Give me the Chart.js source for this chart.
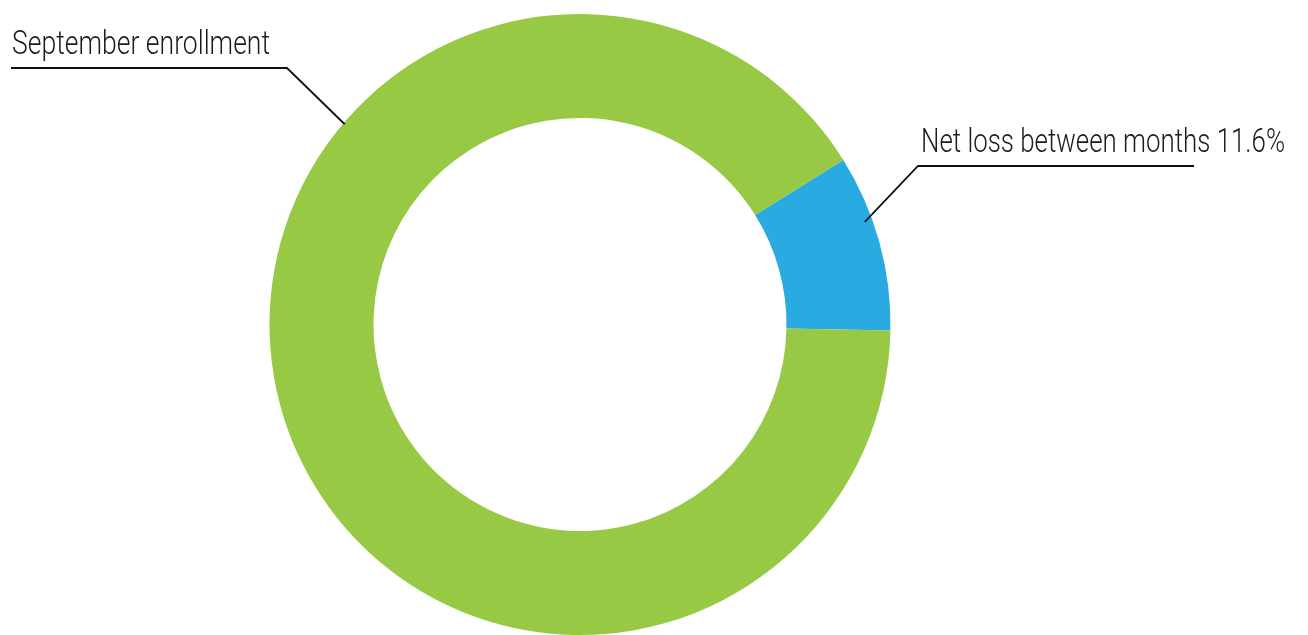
<!DOCTYPE html>
<html>
<head>
<meta charset="utf-8">
<script src="https://cdn.jsdelivr.net/npm/chart.js@4.4.1/dist/chart.umd.min.js"></script>
<style>
  html, body { margin: 0; padding: 0; background: #ffffff; }
  #wrap { width: 1308px; height: 635px; position: relative; }
</style>
</head>
<body>
<div id="wrap"><canvas id="c" width="1308" height="635"></canvas></div>
<script>
// Data
const categories = ["Net loss between months", "September enrollment"];
const values = [9.2, 90.8];
const labelTexts = ["Net loss between months 11.6%", "September enrollment"];
const colors = ["#29ABE2", "#97C944"];

// Label styling (annotation only)
const FONT_FAMILY = 'Roboto, "Open Sans", "DejaVu Sans Condensed", sans-serif';

const labelPlugin = {
  id: 'leaderLabels',
  afterDraw(chart) {
    const ctx = chart.ctx;
    const meta = chart.getDatasetMeta(0);
    const arc0 = meta.data[0];
    const cx = arc0.x, cy = arc0.y, R = arc0.outerRadius;
    const specs = [
      { idx: 0, angle: 70.2, rf: 0.975, elbowX: 918, elbowY: 166, lineEnd: 1194, textX: 921, baseY: 152, width: 364 },
      { idx: 1, angle: -49.6, rf: 0.995, elbowX: 287, elbowY: 68, lineEnd: 11, textX: 12, baseY: 54, width: 258 }
    ];
    ctx.save();
    ctx.strokeStyle = '#111111';
    ctx.lineWidth = 1.8;
    ctx.fillStyle = '#1b1b1b';
    specs.forEach(s => {
      const a = s.angle * Math.PI / 180;
      const px = cx + Math.sin(a) * R * s.rf;
      const py = cy - Math.cos(a) * R * s.rf;
      ctx.beginPath();
      ctx.moveTo(px, py);
      ctx.lineTo(s.elbowX, s.elbowY);
      ctx.lineTo(s.lineEnd, s.elbowY);
      ctx.stroke();
      ctx.font = '300 34px ' + FONT_FAMILY;
      const txt = labelTexts[s.idx];
      const w = ctx.measureText(txt).width;
      const sx = s.width / w;
      ctx.save();
      ctx.translate(s.textX, s.baseY);
      ctx.scale(sx, 1);
      ctx.textBaseline = 'alphabetic';
      ctx.textAlign = 'left';
      ctx.fillText(txt, 0, 0);
      ctx.restore();
    });
    ctx.restore();
  }
};

function draw() {
  new Chart(document.getElementById('c'), {
    type: 'doughnut',
    data: {
      labels: categories,
      datasets: [{
        data: values,
        backgroundColor: colors,
        borderWidth: 0,
        hoverOffset: 0
      }]
    },
    options: {
      responsive: false,
      animation: false,
      rotation: 58,
      cutout: '66.5%',
      layout: { padding: { top: 14, bottom: 0, left: 2, right: 150 } },
      plugins: {
        legend: { display: false },
        tooltip: { enabled: false }
      }
    },
    plugins: [labelPlugin]
  });
}
if (document.fonts && document.fonts.load) {
  document.fonts.load('300 34px Roboto').then(draw, draw);
} else {
  draw();
}
</script>
</body>
</html>
